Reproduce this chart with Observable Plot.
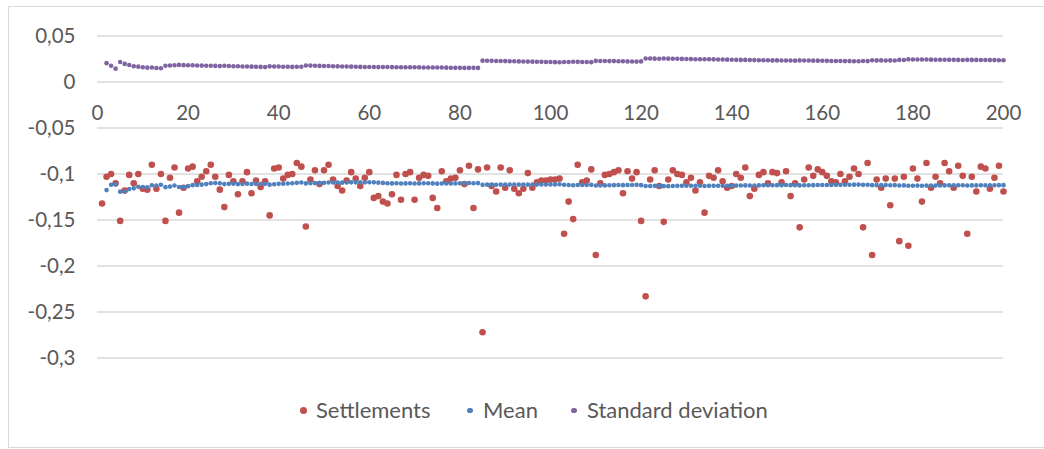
<!DOCTYPE html>
<html><head><meta charset="utf-8">
<script src="https://cdn.jsdelivr.net/npm/d3@7"></script>
<script src="https://cdn.jsdelivr.net/npm/@observablehq/plot@0.6"></script>
<style>
html,body{margin:0;padding:0;background:#fff;}
#wrap{position:relative;width:1044px;height:449px;overflow:hidden;font-family:Lato,"Open Sans",sans-serif;}
#frame{position:absolute;left:8px;top:6px;width:1044px;height:442px;border:1px solid #d9d9d9;box-sizing:border-box;}
#chart{position:absolute;left:0;top:0;}
.leg{position:absolute;top:395px;height:30px;line-height:30px;font-size:22px;color:#595959;white-space:nowrap;}
.dot{position:absolute;border-radius:50%;}
</style>
</head><body>
<div id="wrap"><div id="frame"></div><div id="chart"></div><div id="legend"></div></div>
<script>
const settlements = [
 -0.132,-0.103,-0.100,-0.110,-0.151,-0.118,-0.101,-0.110,-0.100,-0.116,
 -0.117,-0.090,-0.116,-0.100,-0.151,-0.104,-0.093,-0.142,-0.115,-0.094,
 -0.092,-0.108,-0.103,-0.097,-0.090,-0.103,-0.117,-0.136,-0.101,-0.108,
 -0.122,-0.108,-0.098,-0.121,-0.107,-0.114,-0.108,-0.145,-0.094,-0.093,
 -0.105,-0.101,-0.100,-0.088,-0.092,-0.157,-0.106,-0.096,-0.111,-0.096,
 -0.090,-0.106,-0.113,-0.118,-0.107,-0.098,-0.105,-0.113,-0.104,-0.098,
 -0.126,-0.124,-0.130,-0.132,-0.122,-0.101,-0.128,-0.100,-0.098,-0.128,
 -0.104,-0.101,-0.102,-0.126,-0.137,-0.097,-0.108,-0.105,-0.104,-0.096,
 -0.111,-0.091,-0.137,-0.095,-0.272,-0.093,-0.113,-0.119,-0.093,-0.115,
 -0.096,-0.116,-0.121,-0.116,-0.099,-0.115,-0.109,-0.107,-0.107,-0.106,
 -0.106,-0.105,-0.165,-0.130,-0.149,-0.090,-0.109,-0.107,-0.095,-0.188,
 -0.110,-0.101,-0.100,-0.098,-0.096,-0.121,-0.097,-0.105,-0.098,-0.151,
 -0.233,-0.106,-0.096,-0.113,-0.152,-0.106,-0.096,-0.100,-0.101,-0.109,
 -0.104,-0.118,-0.109,-0.142,-0.102,-0.104,-0.096,-0.108,-0.115,-0.113,
 -0.100,-0.104,-0.093,-0.124,-0.116,-0.101,-0.098,-0.110,-0.098,-0.099,
 -0.109,-0.097,-0.124,-0.110,-0.158,-0.106,-0.093,-0.102,-0.095,-0.098,
 -0.102,-0.108,-0.109,-0.100,-0.108,-0.103,-0.094,-0.100,-0.158,-0.088,
 -0.188,-0.106,-0.115,-0.105,-0.134,-0.105,-0.173,-0.103,-0.178,-0.094,
 -0.105,-0.130,-0.088,-0.115,-0.103,-0.110,-0.088,-0.097,-0.115,-0.091,
 -0.102,-0.165,-0.103,-0.119,-0.092,-0.094,-0.116,-0.104,-0.091,-0.119
];
const mean = [
 null,-0.1175,-0.1117,-0.1113,-0.1192,-0.1190,-0.1164,-0.1156,-0.1139,-0.1141,
 -0.1144,-0.1123,-0.1126,-0.1117,-0.1143,-0.1137,-0.1125,-0.1141,-0.1142,-0.1132,
 -0.1121,-0.1120,-0.1116,-0.1110,-0.1101,-0.1098,-0.1101,-0.1110,-0.1107,-0.1106,
 -0.1110,-0.1109,-0.1105,-0.1108,-0.1107,-0.1108,-0.1107,-0.1116,-0.1112,-0.1107,
 -0.1106,-0.1103,-0.1101,-0.1096,-0.1092,-0.1102,-0.1101,-0.1099,-0.1099,-0.1096,
 -0.1092,-0.1092,-0.1092,-0.1094,-0.1093,-0.1091,-0.1091,-0.1091,-0.1091,-0.1089,
 -0.1091,-0.1094,-0.1097,-0.1101,-0.1102,-0.1101,-0.1104,-0.1102,-0.1100,-0.1103,
 -0.1102,-0.1101,-0.1100,-0.1102,-0.1105,-0.1104,-0.1103,-0.1103,-0.1102,-0.1100,
 -0.1100,-0.1098,-0.1101,-0.1099,-0.1118,-0.1116,-0.1116,-0.1117,-0.1115,-0.1116,
 -0.1114,-0.1114,-0.1115,-0.1116,-0.1115,-0.1115,-0.1115,-0.1114,-0.1114,-0.1113,
 -0.1113,-0.1112,-0.1117,-0.1119,-0.1123,-0.1120,-0.1120,-0.1120,-0.1118,-0.1125,
 -0.1125,-0.1124,-0.1123,-0.1121,-0.1120,-0.1121,-0.1120,-0.1119,-0.1118,-0.1121,
 -0.1131,-0.1131,-0.1129,-0.1129,-0.1132,-0.1132,-0.1130,-0.1129,-0.1128,-0.1128,
 -0.1127,-0.1128,-0.1128,-0.1130,-0.1129,-0.1128,-0.1127,-0.1127,-0.1127,-0.1127,
 -0.1126,-0.1125,-0.1124,-0.1125,-0.1125,-0.1124,-0.1123,-0.1123,-0.1122,-0.1121,
 -0.1121,-0.1120,-0.1121,-0.1121,-0.1124,-0.1123,-0.1122,-0.1121,-0.1120,-0.1119,
 -0.1119,-0.1119,-0.1118,-0.1118,-0.1117,-0.1117,-0.1116,-0.1115,-0.1118,-0.1117,
 -0.1121,-0.1121,-0.1121,-0.1120,-0.1122,-0.1121,-0.1125,-0.1124,-0.1128,-0.1127,
 -0.1126,-0.1127,-0.1126,-0.1126,-0.1126,-0.1125,-0.1124,-0.1123,-0.1123,-0.1122,
 -0.1122,-0.1125,-0.1124,-0.1124,-0.1123,-0.1122,-0.1123,-0.1122,-0.1121,-0.1121
];
const stdDev = [
 null,0.0205,0.0177,0.0145,0.0217,0.0197,0.0185,0.0172,0.0167,0.0160,
 0.0156,0.0158,0.0152,0.0149,0.0176,0.0180,0.0182,0.0186,0.0183,0.0182,
 0.0182,0.0180,0.0178,0.0177,0.0177,0.0175,0.0173,0.0176,0.0174,0.0172,
 0.0171,0.0169,0.0168,0.0167,0.0165,0.0164,0.0162,0.0170,0.0169,0.0168,
 0.0166,0.0165,0.0164,0.0165,0.0165,0.0180,0.0178,0.0177,0.0175,0.0174,
 0.0174,0.0172,0.0170,0.0169,0.0168,0.0167,0.0165,0.0164,0.0163,0.0163,
 0.0163,0.0162,0.0163,0.0163,0.0162,0.0161,0.0161,0.0160,0.0160,0.0160,
 0.0159,0.0158,0.0157,0.0157,0.0158,0.0157,0.0156,0.0155,0.0154,0.0154,
 0.0153,0.0153,0.0154,0.0153,0.0232,0.0231,0.0230,0.0229,0.0228,0.0227,
 0.0226,0.0225,0.0224,0.0223,0.0222,0.0221,0.0220,0.0219,0.0218,0.0217,
 0.0216,0.0215,0.0218,0.0218,0.0220,0.0219,0.0218,0.0217,0.0216,0.0230,
 0.0229,0.0228,0.0227,0.0227,0.0226,0.0225,0.0224,0.0223,0.0222,0.0224,
 0.0256,0.0255,0.0254,0.0253,0.0255,0.0254,0.0253,0.0252,0.0251,0.0250,
 0.0249,0.0248,0.0247,0.0248,0.0247,0.0246,0.0245,0.0244,0.0243,0.0242,
 0.0241,0.0240,0.0240,0.0239,0.0238,0.0237,0.0237,0.0236,0.0235,0.0235,
 0.0234,0.0233,0.0233,0.0232,0.0235,0.0234,0.0233,0.0232,0.0232,0.0231,
 0.0230,0.0229,0.0229,0.0228,0.0227,0.0227,0.0226,0.0225,0.0228,0.0227,
 0.0236,0.0235,0.0235,0.0234,0.0235,0.0234,0.0240,0.0239,0.0246,0.0245,
 0.0244,0.0244,0.0244,0.0243,0.0242,0.0242,0.0242,0.0241,0.0241,0.0240,
 0.0239,0.0241,0.0240,0.0240,0.0239,0.0239,0.0238,0.0238,0.0237,0.0237
];
const xTicks = [0,20,40,60,80,100,120,140,160,180,200];
const xTickLabels = ["0","20","40","60","80","100","120","140","160","180","200"];
const yTicks = [0.05,0,-0.05,-0.1,-0.15,-0.2,-0.25,-0.3];
const yTickLabels = ["0,05","0","-0,05","-0,1","-0,15","-0,2","-0,25","-0,3"];
const seriesNames = ["Settlements","Mean","Standard deviation"];
const seriesColors = ["#C0504D","#4F81BD","#8064A2"];

const runs = settlements.map((_, i) => i + 1);
const rows = (vals) => runs.map((x, i) => ({x, y: vals[i]})).filter(d => d.y != null);

const TXT = "#595959";
const chart = Plot.plot({
  width: 1044, height: 390,
  marginLeft: 97, marginRight: 41, marginTop: 35.5, marginBottom: 32.5,
  x: {domain: [0, 200], axis: null},
  y: {domain: [-0.3, 0.05], axis: null},
  style: {fontFamily: 'Lato, "Open Sans", sans-serif', background: "transparent"},
  marks: [
    Plot.ruleY(yTicks, {stroke: "#d9d9d9", strokeWidth: 1.5}),
    Plot.text(yTicks, {x: 0, y: d => d, text: (d, i) => yTickLabels[i], textAnchor: "end", dx: -22, fontSize: 20.5, fill: TXT}),
    Plot.text(xTicks, {x: d => d, y: 0, text: (d, i) => xTickLabels[i], dy: 31, fontSize: 20.5, fill: TXT}),
    Plot.dot(rows(settlements), {x: "x", y: "y", r: 3.3, fill: seriesColors[0], stroke: null}),
    Plot.dot(rows(mean), {x: "x", y: "y", r: 2.3, fill: seriesColors[1], stroke: null}),
    Plot.dot(rows(stdDev), {x: "x", y: "y", r: 2.3, fill: seriesColors[2], stroke: null})
  ]
});
document.getElementById("chart").appendChild(chart);

const leg = document.getElementById("legend");
const legPos = [{dot: 303, text: 316, r: 3.5}, {dot: 470, text: 483, r: 2.6}, {dot: 574, text: 587, r: 2.6}];
seriesNames.forEach((name, i) => {
  const p = legPos[i];
  const d = document.createElement("div");
  d.className = "dot";
  d.style.cssText = `left:${p.dot - p.r}px;top:${410.5 - p.r}px;width:${2*p.r}px;height:${2*p.r}px;background:${seriesColors[i]};`;
  leg.appendChild(d);
  const t = document.createElement("div");
  t.className = "leg";
  t.style.left = p.text + "px";
  t.textContent = name;
  leg.appendChild(t);
});
</script>
</body></html>
